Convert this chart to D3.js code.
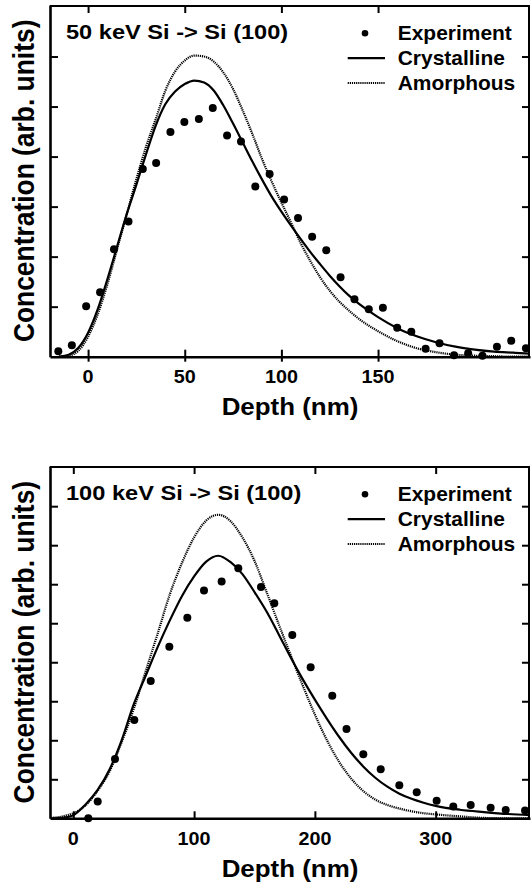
<!DOCTYPE html>
<html><head><meta charset="utf-8">
<script src="https://cdn.jsdelivr.net/npm/d3@7"></script>
<style>
html,body{margin:0;padding:0;background:#fff;}
svg{display:block;}
text{font-family:"Liberation Sans",Arial,Helvetica,sans-serif;font-weight:bold;fill:#000;}
</style></head><body>
<svg id="chart" width="531" height="883"></svg>
<script>
// ---------- Panel 1: 50 keV ----------
const title50 = "50 keV Si -> Si (100)";
const xTicks50 = [0, 50, 100, 150];
const expDepth50 = [-15.4,-8.4,-1.0,6.2,13.4,20.9,28.3,35.2,42.6,49.8,57.3,64.5,71.9,79.1,86.5,93.9,101.4,108.6,115.9,123.2,130.6,137.8,145.2,152.5,159.9,167.2,174.6,181.8,189.3,196.6,204.0,211.5,218.9,226.5];
const expConc50  = [0.11,0.23,1.01,1.29,2.15,2.70,3.75,3.87,4.49,4.69,4.75,4.97,4.42,4.30,3.40,3.65,3.14,2.77,2.40,2.13,1.59,1.15,0.95,0.98,0.58,0.50,0.16,0.27,0.03,0.07,0.02,0.20,0.32,0.17];
const simDepth50 = [-15,-10,-5,0,5,10,15,20,25,30,35,40,45,50,55,60,65,70,75,80,85,90,95,100,105,110,115,120,125,130,135,140,150,160,170,180,190,200,210,220,230];
const crysConc50 = [0,0.04,0.18,0.48,0.95,1.55,2.2,2.85,3.44,4.05,4.62,5.05,5.3,5.45,5.52,5.48,5.32,5.02,4.66,4.28,3.9,3.54,3.2,2.9,2.62,2.35,2.09,1.85,1.62,1.41,1.22,1.06,0.79,0.57,0.41,0.29,0.2,0.14,0.1,0.08,0.06];
const amorConc50 = [0,0.02,0.12,0.4,0.85,1.45,2.15,2.85,3.55,4.2,4.75,5.32,5.7,5.92,6.02,6.0,5.9,5.68,5.35,4.92,4.45,3.95,3.5,3.08,2.68,2.27,1.91,1.59,1.32,1.1,0.92,0.76,0.51,0.31,0.17,0.09,0.04,0.02,0.01,0,0];

// ---------- Panel 2: 100 keV ----------
const title100 = "100 keV Si -> Si (100)";
const xTicks100 = [0, 100, 200, 300];
const expDepth100 = [12.4,20.2,34.5,50.5,64.1,79.5,94.4,108.2,122.8,136.6,155.4,166.4,181.3,196.5,214.4,226.2,240.1,254.5,269.9,284.3,300.8,314.6,329,345.5,358,374];
const expConc100  = [0.0,0.43,1.52,2.52,3.52,4.40,5.14,5.84,6.07,6.41,5.93,5.51,4.70,3.87,3.14,2.29,1.64,1.26,0.85,0.67,0.45,0.30,0.34,0.27,0.21,0.20];
const simDepth100 = [-20,-15,-10,-5,0,10,20,30,40,50,60,70,80,90,100,110,120,130,140,150,160,170,180,190,200,210,220,230,240,250,260,270,280,290,300,320,340,360,380];
const crysConc100 = [0,0,0.01,0.03,0.08,0.35,0.72,1.25,2.0,2.92,3.66,4.4,5.08,5.7,6.2,6.58,6.73,6.57,6.26,5.8,5.3,4.72,4.12,3.56,3.04,2.55,2.09,1.68,1.33,1.04,0.81,0.63,0.5,0.4,0.32,0.22,0.16,0.11,0.08];
const amorConc100 = [0.01,0.02,0.04,0.08,0.13,0.33,0.7,1.2,1.95,2.8,3.78,4.75,5.75,6.55,7.2,7.63,7.78,7.62,7.2,6.6,5.8,4.98,4.18,3.4,2.66,2.0,1.45,1.02,0.7,0.48,0.34,0.25,0.18,0.13,0.1,0.05,0.01,0,0];

const legendLabels = ["Experiment", "Crystalline", "Amorphous"];
const xAxisLabel = "Depth (nm)";
const yAxisLabel = "Concentration (arb. units)";

const svg = d3.select("#chart");

function scaledText(g, x, y, str, size, sx, anchor) {
  return g.append("text")
    .attr("transform", `translate(${x},${y}) scale(${sx},1)`)
    .attr("text-anchor", anchor || "start")
    .style("font-size", size + "px")
    .text(str);
}

function drawPanel(p, idx) {
  const g = svg.append("g");
  const x = d3.scaleLinear().domain(p.xDomain).range([p.x0, p.x1]);
  const y = d3.scaleLinear().domain(p.yDomain).range([p.y1, p.y0]);

  const clipId = "clip" + idx;
  svg.append("clipPath").attr("id", clipId).append("rect")
    .attr("x", p.x0).attr("y", p.y0).attr("width", p.x1 - p.x0).attr("height", p.y1 - p.y0);

  const line = d3.line().x(d => x(d[0])).y(d => y(d[1])).curve(d3.curveMonotoneX);

  const plot = g.append("g").attr("clip-path", `url(#${clipId})`);
  plot.append("path").datum(d3.zip(p.simX, p.amor))
    .attr("d", line).attr("fill", "none").attr("stroke", "#000")
    .attr("stroke-width", 2.2).attr("stroke-dasharray", "1.2,0.9");
  plot.append("path").datum(d3.zip(p.simX, p.crys))
    .attr("d", line).attr("fill", "none").attr("stroke", "#000")
    .attr("stroke-width", 2.2);

  // frame
  g.append("line").attr("x1", p.x0).attr("x2", p.x1).attr("y1", p.y0 + 1).attr("y2", p.y0 + 1)
    .attr("stroke", "#000").attr("stroke-width", 2);
  g.append("line").attr("x1", p.x1 - 1).attr("x2", p.x1 - 1).attr("y1", p.y0).attr("y2", p.y1)
    .attr("stroke", "#000").attr("stroke-width", 2);

  // bottom axis
  const xb = d3.axisBottom(x).tickValues(p.xTicks).tickSizeInner(-7).tickSizeOuter(0).tickFormat(d3.format("d"));
  const gxb = g.append("g").attr("transform", `translate(0,${p.y1})`).call(xb);
  gxb.select(".domain").attr("stroke-width", 2.6);
  gxb.selectAll(".tick line").attr("stroke-width", 2)
    .attr("y1", p.crossTicks ? 5 : 0);
  gxb.selectAll(".tick text").remove();
  p.xTicks.forEach(t => scaledText(g, x(t), p.y1 + 26.5, d3.format("d")(t), 18.5, 1.07, "middle"));

  // top axis ticks
  const xt = d3.axisTop(x).tickValues(p.xTicks).tickSizeInner(-8).tickSizeOuter(0).tickFormat("");
  const gxt = g.append("g").attr("transform", `translate(0,${p.y0})`).call(xt);
  gxt.select(".domain").remove();
  gxt.selectAll(".tick line").attr("stroke-width", 2);

  // left axis
  const yl = d3.axisLeft(y).tickValues(p.yTicks).tickSizeInner(-8).tickSizeOuter(0).tickFormat("");
  const gyl = g.append("g").attr("transform", `translate(${p.x0},0)`).call(yl);
  gyl.select(".domain").attr("stroke-width", 2.6);
  gyl.selectAll(".tick line").attr("stroke-width", 2);

  // right axis ticks
  const yr = d3.axisRight(y).tickValues(p.yTicks).tickSizeInner(-7).tickSizeOuter(0).tickFormat("");
  const gyr = g.append("g").attr("transform", `translate(${p.x1 - 1},0)`).call(yr);
  gyr.select(".domain").remove();
  gyr.selectAll(".tick line").attr("stroke-width", 2);

  // points
  g.append("g").selectAll("circle").data(d3.zip(p.expX, p.expY)).join("circle")
    .attr("cx", d => x(d[0])).attr("cy", d => y(d[1])).attr("r", 4).attr("fill", "#000");

  // title
  scaledText(g, 66, p.y0 + 34.3, p.title, 20, 1.18, "start");

  // legend
  g.append("circle").attr("cx", 365).attr("cy", p.y0 + 28.3).attr("r", 3.3).attr("fill", "#000");
  g.append("line").attr("x1", 347.7).attr("x2", 385).attr("y1", p.y0 + 53.2).attr("y2", p.y0 + 53.2)
    .attr("stroke", "#000").attr("stroke-width", 2.2);
  g.append("line").attr("x1", 347.7).attr("x2", 385).attr("y1", p.y0 + 78).attr("y2", p.y0 + 78)
    .attr("stroke", "#000").attr("stroke-width", 1.8).attr("stroke-dasharray", "1.2,0.9");
  legendLabels.forEach((l, i) => scaledText(g, 397.7, p.y0 + 35 + i * 25.2, l, 19.5, 1.075, "start"));

  // axis titles
  scaledText(g, (p.x0 + p.x1) / 2, p.y1 + 58.5, xAxisLabel, 24, 1.08, "middle");
  g.append("text")
    .attr("transform", `translate(34,${(p.y0 + p.y1) / 2}) rotate(-90) scale(1,1.13)`)
    .attr("text-anchor", "middle")
    .style("font-size", "26.4px")
    .text(yAxisLabel);
}

drawPanel({
  x0: 50, x1: 530, y0: 5, y1: 356.7,
  xDomain: [-19.7, 228.6], yDomain: [0, 7.03],
  xTicks: xTicks50, yTicks: [1, 2, 3, 4, 5, 6],
  title: title50, crossTicks: true,
  expX: expDepth50, expY: expConc50,
  simX: simDepth50, crys: crysConc50, amor: amorConc50
}, 0);

drawPanel({
  x0: 50, x1: 530, y0: 466, y1: 818.3,
  xDomain: [-19.3, 378.1], yDomain: [0, 9.03],
  xTicks: xTicks100, yTicks: [1, 2, 3, 4, 5, 6, 7, 8],
  title: title100, crossTicks: false,
  expX: expDepth100, expY: expConc100,
  simX: simDepth100, crys: crysConc100, amor: amorConc100
}, 1);
</script>
</body></html>
